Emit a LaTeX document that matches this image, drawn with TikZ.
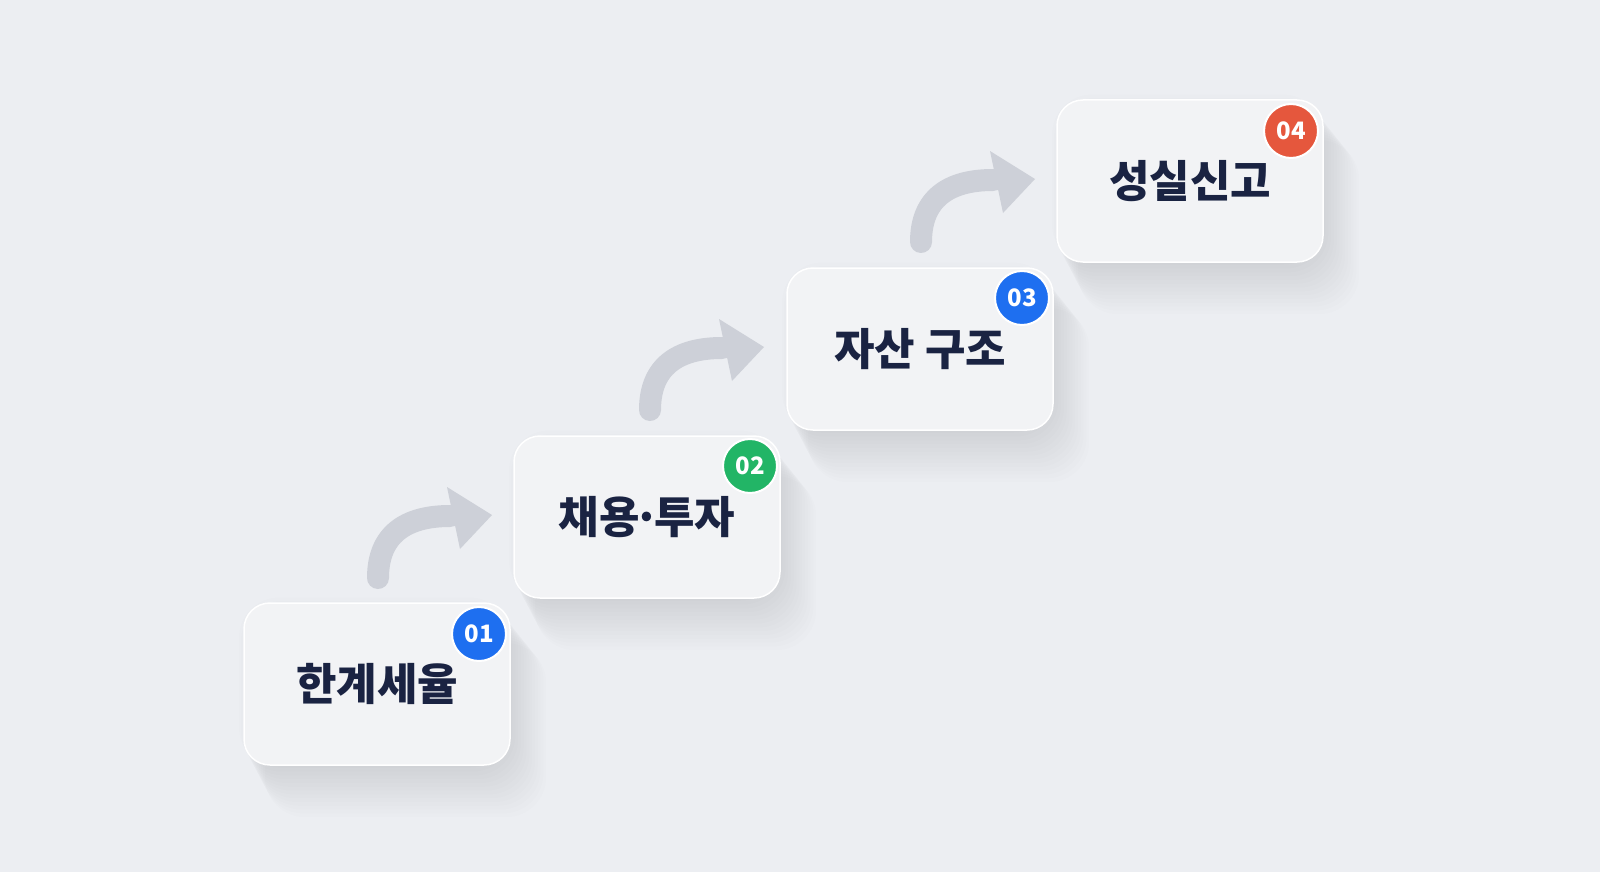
\documentclass[tikz,border=0pt]{standalone}
\usepackage{fontspec}
\newfontfamily\kr{Noto Sans CJK KR}
\usetikzlibrary{calc}
\definecolor{bg}{HTML}{ECEEF2}
\definecolor{boxc}{HTML}{F2F3F5}
\definecolor{arr}{HTML}{CDD0D8}
\definecolor{txt}{HTML}{1A2342}
\definecolor{bblue}{HTML}{1E6FF0}
\definecolor{bgreen}{HTML}{22B566}
\definecolor{bred}{HTML}{E5573D}
\tikzset{
  stepbox/.style={rounded corners=26pt, minimum width=266pt, minimum height=162pt, fill=boxc, draw=white, line width=1.5pt, inner sep=0pt, font=\kr\bfseries\fontsize{44pt}{50pt}\selectfont, text=txt},
  badge/.style={circle, minimum size=54pt, inner sep=0pt, draw=white, line width=2pt, text=white, font=\kr\bfseries\fontsize{24pt}{26pt}\selectfont},
  curv/.style={draw=arr, line width=22pt, line cap=round},
}
\begin{document}
\begin{tikzpicture}[x=1pt,y=-1pt]
\fill[bg] (0,0) rectangle (1600,872);
\useasboundingbox (0,0) rectangle (1600,872);
\foreach \cx/\cy in {377/684, 647/517, 920/349, 1190/181}{
  \foreach \i in {1,...,14}{
    \fill[black, opacity=0.009, rounded corners=40pt] ($(\cx,\cy)+(-140+\i*2,-90+\i*3.5)$) rectangle ($(\cx,\cy)+(130+\i*2.8,80+\i*3.8)$);
  }
}
\node[stepbox] (s1) at (377,684) {한계세율};
\node[stepbox] (s2) at (647,517) {채용{\kern-6pt}·{\kern-6pt}투자};
\node[stepbox] (s3) at (920,349) {자산 구조};
\node[stepbox] (s4) at (1190,181) {성실신고};
\node[badge, fill=bblue] (b1) at (479,634) {01};
\node[badge, fill=bgreen] (b2) at (750,466) {02};
\node[badge, fill=bblue] (b3) at (1022,298) {03};
\node[badge, fill=bred] (b4) at (1291,131) {04};
\foreach \dx/\dy [count=\k] in {0/0, 272/-168, 543/-336}{
  \begin{scope}[shift={(\dx,\dy)}]
  \coordinate (a\k) at (378,578);
  \coordinate (h\k) at (450,516);
  \draw[curv] (a\k) .. controls (378,535) and (405,516) .. (h\k);
  \fill[arr] (492,515) -- (447,487) -- (460,549) -- cycle;
  \end{scope}
}
\end{tikzpicture}
\end{document}
